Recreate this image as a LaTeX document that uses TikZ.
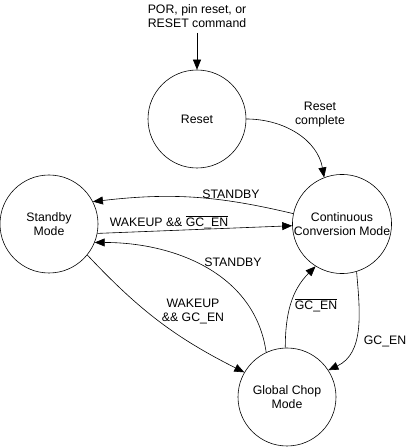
\documentclass[tikz,border=0pt]{standalone}
\usepackage{fontspec}
\setmainfont{Liberation Sans}
\usetikzlibrary{arrows.meta}
\begin{document}
\begin{tikzpicture}[x=1pt,y=1pt,
  state/.style={draw, circle, minimum size=98pt, inner sep=0pt, align=center, line width=0.6pt},
  lbl/.style={align=center, inner sep=0pt},
  arr/.style={-{Triangle[length=10pt,width=8pt]}, line width=0.6pt},
  every node/.style={font=\fontsize{12.3}{14}\selectfont}]
\useasboundingbox (0,0) rectangle (407,448);
\node[state] (reset) at (197,329) {Reset};
\node[state] (standby) at (49,224) {Standby\\Mode};
\node[state] (cont) at (342,224) {Continuous\\Conversion Mode};
\node[state] (gc) at (287,51) {Global Chop\\Mode};
\node[lbl] (por) at (197,432) {POR, pin reset, or\\RESET command};
\coordinate (start) at (197,415);
\draw[arr] (start) -- (reset.north);
\draw[arr] (reset.0) to[out=0,in=100] (cont.111);
\node[lbl] (l1) at (320,333) {Reset\\complete};
\draw[arr] (cont.168) to[bend right=10] (standby.27);
\node[lbl] (l2) at (231,254) {STANDBY};
\draw[arr] (standby.-11) -- (cont.182);
\node[lbl] (l3) at (169,226) {WAKEUP \&\& $\overline{\mbox{GC\_EN}}$};
\draw[arr] (gc.115) to[out=98,in=0] (standby.-22);
\node[lbl] (l4) at (233,186) {STANDBY};
\draw[arr] (standby.-39) to[bend right=10] (gc.150);
\node[lbl] (l5) at (193,137) {WAKEUP\\\&\& GC\_EN};
\draw[arr] (gc.92) to[out=90,in=225] (cont.238);
\node[lbl] (l6) at (316,143) {$\overline{\mbox{GC\_EN}}$};
\draw[arr] (cont.-73) to[out=-85,in=25] (gc.33);
\node[lbl] (l7) at (385,107) {GC\_EN};
\end{tikzpicture}
\end{document}
